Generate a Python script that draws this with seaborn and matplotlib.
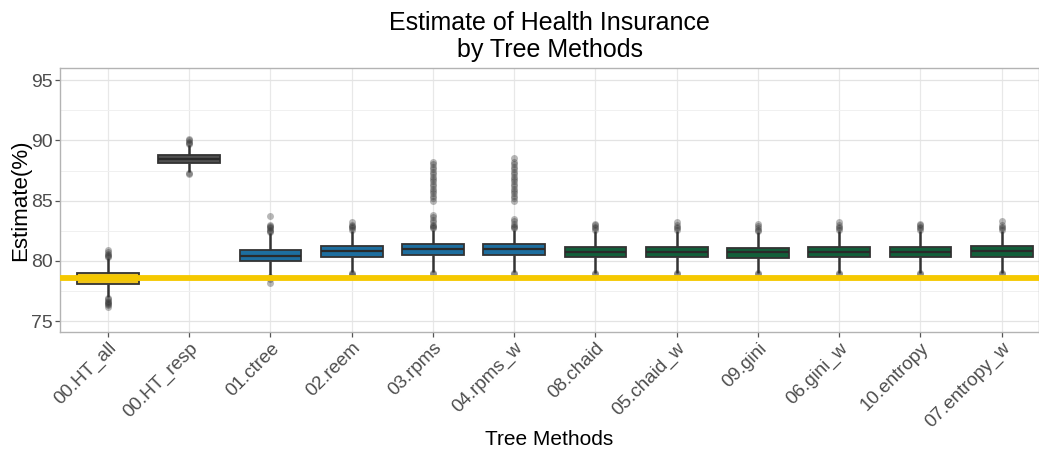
import numpy as np
import pandas as pd
import matplotlib
matplotlib.use("Agg")
import matplotlib.pyplot as plt
import seaborn as sns
from matplotlib.ticker import MultipleLocator

categories = ["00.HT_all", "00.HT_resp", "01.ctree", "02.reem", "03.rpms", "04.rpms_w",
              "08.chaid", "05.chaid_w", "09.gini", "06.gini_w", "10.entropy", "07.entropy_w"]
groups = ["all", "resp", "blue", "blue", "blue", "blue",
          "green", "green", "green", "green", "green", "green"]
whisk_lo = [77.0, 87.4, 78.8, 79.1, 79.1, 79.1, 79.0, 79.0, 79.0, 79.0, 79.0, 79.0]
q1       = [78.1, 88.1, 79.95, 80.35, 80.45, 80.45, 80.3, 80.3, 80.25, 80.3, 80.3, 80.35]
median   = [78.5, 88.45, 80.4, 80.85, 80.95, 80.95, 80.75, 80.75, 80.7, 80.75, 80.75, 80.8]
q3       = [79.0, 88.8, 80.9, 81.25, 81.4, 81.4, 81.15, 81.15, 81.1, 81.15, 81.15, 81.2]
whisk_hi = [80.2, 89.6, 82.3, 82.5, 82.6, 82.6, 82.5, 82.5, 82.4, 82.5, 82.5, 82.5]
outliers = [
    [76.2, 76.3, 76.4, 76.5, 76.6, 76.7, 76.8, 76.9, 80.3, 80.4, 80.5, 80.6, 80.7, 80.9],
    [87.2, 87.3, 89.7, 89.8, 89.9, 90.0, 90.1],
    [78.2, 78.5, 78.7, 82.4, 82.5, 82.6, 82.7, 82.8, 82.9, 83.0, 83.7],
    [78.8, 78.9, 79.0, 82.6, 82.7, 82.8, 82.9, 83.0, 83.2],
    [78.9, 79.0, 82.7, 82.8, 82.9, 83.0, 83.2, 83.4, 83.6, 83.8, 85.0, 85.2, 85.4, 85.6,
     85.8, 86.0, 86.2, 86.4, 86.6, 86.8, 87.0, 87.2, 87.4, 87.6, 87.8, 88.0, 88.2],
    [78.9, 79.0, 82.7, 82.8, 82.9, 83.1, 83.3, 83.5, 85.0, 85.2, 85.4, 85.6, 85.8, 86.0,
     86.2, 86.4, 86.6, 86.8, 87.0, 87.2, 87.4, 87.6, 87.8, 88.0, 88.2, 88.5],
    [78.9, 79.0, 82.6, 82.7, 82.8, 83.0, 83.1],
    [78.9, 79.0, 82.6, 82.7, 82.8, 83.0, 83.2],
    [78.9, 79.0, 82.5, 82.6, 82.7, 82.9, 83.1],
    [78.9, 79.0, 82.6, 82.7, 82.8, 83.0, 83.2],
    [78.9, 79.0, 82.6, 82.7, 82.8, 83.0, 83.1],
    [78.9, 79.0, 82.6, 82.7, 82.8, 83.0, 83.3],
]
reference_line = 78.55
group_colors = {"all": "#EDC21C", "resp": "#505050", "blue": "#1D6E9F", "green": "#125F3A"}

# long-format tables built from the arrays above
box_rows = []
for c, lo, a, m, b, hi in zip(categories, whisk_lo, q1, median, q3, whisk_hi):
    for v in (lo, a, m, b, hi):
        box_rows.append({"method": c, "estimate": v})
box_df = pd.DataFrame(box_rows)
out_df = pd.DataFrame([{"method": c, "estimate": v}
                       for c, vals in zip(categories, outliers) for v in vals])
palette = {c: group_colors[g] for c, g in zip(categories, groups)}

sns.set_theme(style="whitegrid")
plt.rcParams["font.family"] = ["Liberation Sans", "DejaVu Sans"]

fig = plt.figure(figsize=(10.39, 4.51), dpi=100)
ax = fig.add_axes([0.0578, 0.264, 0.9422, 0.585])

sns.stripplot(data=out_df, x="method", y="estimate", order=categories, jitter=False,
              color="#333333", alpha=0.35, size=5, linewidth=0, ax=ax, zorder=2)
sns.boxplot(data=box_df, x="method", y="estimate", order=categories, hue="method",
            palette=palette, legend=False, whis=(0, 100), showfliers=False, showcaps=False,
            width=0.76, linecolor="#333333", linewidth=1.3, saturation=1,
            whiskerprops=dict(linewidth=1.8, color="#333333"),
            medianprops=dict(color="#2a2a2a", linewidth=1.6), ax=ax)
ax.axhline(reference_line, color="#F5C800", linewidth=4.2, zorder=5)

ax.set_xlim(-0.59, 11.46)
ax.set_ylim(74.1, 96.0)
ax.yaxis.set_major_locator(MultipleLocator(5))
ax.yaxis.set_minor_locator(MultipleLocator(2.5))
ax.grid(True, which="major", color="#E3E3E3", linewidth=0.9)
ax.grid(True, which="minor", axis="y", color="#F0F0F0", linewidth=0.7)
ax.xaxis.grid(True, color="#E8E8E8", linewidth=0.9)
ax.set_axisbelow(True)
for s in ax.spines.values():
    s.set_color("#B3B3B3")
    s.set_linewidth(1.0)

ax.tick_params(axis="both", which="major", length=3.5, color="#555555", width=0.9,
               labelcolor="#4D4D4D", bottom=True, left=True)
ax.tick_params(axis="y", labelsize=14, pad=2)
ax.tick_params(axis="x", labelsize=13.5, pad=2)
plt.setp(ax.get_xticklabels(), rotation=45, ha="right", rotation_mode="anchor")

ax.set_xlabel("Tree Methods", fontsize=15, color="black")
ax.xaxis.set_label_coords(0.5, -0.37)
ax.set_ylabel("Estimate(%)", fontsize=16, color="black", labelpad=0)
ax.set_title("Estimate of Health Insurance\nby Tree Methods", fontsize=18, color="black",
             pad=8, linespacing=1.15)

fig.savefig("out.png", dpi=100)
